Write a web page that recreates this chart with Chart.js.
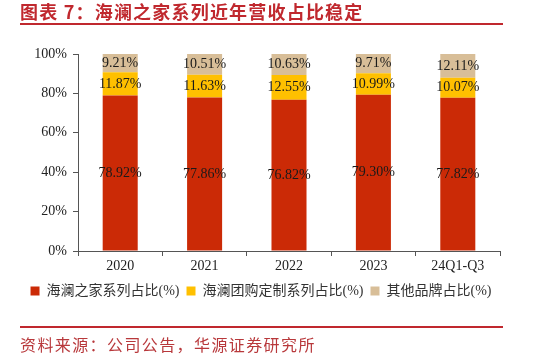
<!DOCTYPE html>
<html><head><meta charset="utf-8">
<script src="https://cdn.jsdelivr.net/npm/chart.js@4.4.1/dist/chart.umd.min.js"></script>
<style>
html,body{margin:0;padding:0;background:#fff;}
#wrap{position:relative;width:536px;height:356px;overflow:hidden;}
#title{position:absolute;left:20px;top:0px;font-family:"Noto Sans CJK SC";font-weight:bold;font-size:18px;line-height:22px;color:#C0282E;letter-spacing:1.2px;white-space:nowrap;}
#line1{position:absolute;left:20px;top:23px;width:483px;height:2px;background:#C0282E;}
#line2{position:absolute;left:20px;top:326px;width:483px;height:2px;background:#C0282E;}
#src{position:absolute;left:20px;top:333px;font-family:"Noto Sans CJK SC";font-size:16px;line-height:22px;color:#B8383B;letter-spacing:1.4px;white-space:nowrap;}
canvas{position:absolute;left:0;top:0;}
</style></head>
<body><div id="wrap">
<canvas id="c" width="536" height="356"></canvas>
<div id="title">图表 7：海澜之家系列近年营收占比稳定</div>
<div id="line1"></div>
<div id="line2"></div>
<div id="src">资料来源：公司公告，华源证券研究所</div>
</div>
<script>
const categories = ["2020","2021","2022","2023","24Q1-Q3"];
const hlzjShare = [78.92,77.86,76.82,79.30,77.82];
const groupShare = [11.87,11.63,12.55,10.99,10.07];
const otherShare = [9.21,10.51,10.63,9.71,12.11];
const seriesNames = ["海澜之家系列占比(%)","海澜团购定制系列占比(%)","其他品牌占比(%)"];
const yTicks = [0,20,40,60,80,100];

const FONT = '"Liberation Serif","Noto Sans CJK SC",serif';

const labelPlugin = {
  id:'segLabels',
  afterDatasetsDraw(chart){
    const ctx = chart.ctx;
    ctx.save();
    ctx.font = '14px ' + FONT;
    ctx.fillStyle = '#1a1a1a';
    ctx.textAlign = 'center';
    ctx.textBaseline = 'middle';
    chart.data.datasets.forEach((ds,di)=>{
      const meta = chart.getDatasetMeta(di);
      meta.data.forEach((bar,i)=>{
        const p = bar.getProps(['x','y','base'],true);
        const cy = (p.y + p.base)/2;
        ctx.fillText(ds.data[i].toFixed(2)+'%', p.x, cy);
      });
    });
    ctx.restore();
  }
};

new Chart(document.getElementById('c'),{
  type:'bar',
  data:{
    labels:categories,
    datasets:[
      {label:seriesNames[0],data:hlzjShare,backgroundColor:'#CB2A06'},
      {label:seriesNames[1],data:groupShare,backgroundColor:'#FFC000'},
      {label:seriesNames[2],data:otherShare,backgroundColor:'#D8BE98'}
    ]
  },
  options:{
    responsive:false,
    animation:false,
    devicePixelRatio:1,
    layout:{padding:{left:0,right:14,top:54,bottom:48}},
    datasets:{bar:{barPercentage:0.83,categoryPercentage:0.5}},
    plugins:{
      legend:{
        position:'bottom',
        labels:{font:{size:14,family:FONT},color:'#333',boxWidth:9,boxHeight:9,padding:7}
      },
      tooltip:{enabled:false}
    },
    scales:{
      x:{
        stacked:true,
        grid:{display:true,drawOnChartArea:false,offset:true,color:'#555',tickLength:5,tickWidth:1},
        border:{display:true,color:'#555',width:1},
        ticks:{font:{size:14,family:FONT},color:'#222',padding:2},
        afterFit(s){s.height=26;}
      },
      y:{
        stacked:true,
        min:0,max:100,
        afterBuildTicks(s){s.ticks = yTicks.map(v=>({value:v}));},
        grid:{display:true,drawOnChartArea:false,color:'#555',tickLength:5},
        border:{display:true,color:'#555',width:1},
        ticks:{font:{size:14,family:FONT},color:'#222',padding:6,callback:v=>v+'%'},
        afterFit(s){s.width=78;}
      },
      yPad:{
        position:'right',
        display:true,
        min:0,max:100,
        grid:{display:false},
        border:{display:false},
        ticks:{display:false},
        afterFit(s){s.width=22;}
      }
    }
  },
  plugins:[labelPlugin]
});
</script>
</body></html>
